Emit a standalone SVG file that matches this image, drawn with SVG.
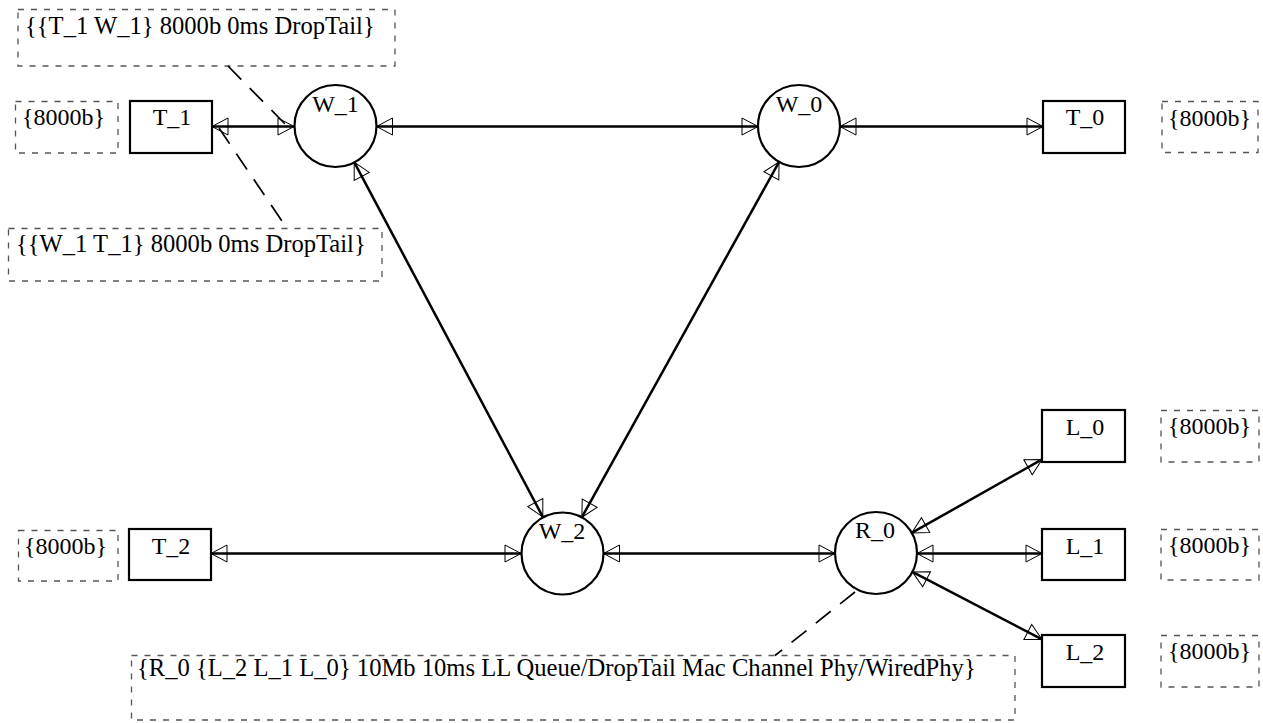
<svg xmlns="http://www.w3.org/2000/svg" width="1263" height="723" viewBox="0 0 1263 723">
  <style>
    text { font-family: "Liberation Serif", "Times New Roman", serif; font-size: 24px; fill: #000; }
    text.long { font-size: 24.6px; }
    .lbl { text-anchor: middle; }
    .node { fill: #fff; stroke: #000; stroke-width: 2.2; }
    .note { fill: none; stroke: #555; stroke-width: 1.3; stroke-dasharray: 6 7; }
    .edge { fill: none; stroke: #000; stroke-width: 2.5; marker-start: url(#tri); marker-end: url(#tri); }
    .lead { fill: none; stroke: #000; stroke-width: 1.7; stroke-dasharray: 19 12; }
  </style>
  <defs>
    <marker id="tri" markerUnits="userSpaceOnUse" markerWidth="18" markerHeight="18" refX="16" refY="8.5" orient="auto-start-reverse" overflow="visible">
      <path d="M0,0 L16,8.5 L0,17 Z" fill="none" stroke="#000" stroke-width="1"/>
    </marker>
  </defs>
  <rect width="1263" height="723" fill="#fff"/>

  <!-- queue / link annotations -->
  <g id="notes">
    <rect class="note" x="18" y="9.5" width="377" height="56.5"/>
    <text class="long" x="25" y="34">{{T_1 W_1} 8000b 0ms DropTail}</text>
    <rect class="note" x="8.5" y="228.5" width="373.5" height="52.5"/>
    <text class="long" x="16" y="252">{{W_1 T_1} 8000b 0ms DropTail}</text>
    <rect class="note" x="15.5" y="101.5" width="102.5" height="51.5"/>
    <text x="22" y="125">{8000b}</text>
    <rect class="note" x="18.5" y="530.5" width="99.5" height="50.5"/>
    <text x="24" y="554">{8000b}</text>
    <rect class="note" x="1162" y="101.5" width="96" height="51"/>
    <text x="1168" y="126">{8000b}</text>
    <rect class="note" x="1161" y="410.5" width="98" height="51.5"/>
    <text x="1168" y="434">{8000b}</text>
    <rect class="note" x="1161" y="529.5" width="98" height="50.5"/>
    <text x="1168" y="553">{8000b}</text>
    <rect class="note" x="1161" y="635.5" width="98" height="51.5"/>
    <text x="1168" y="659">{8000b}</text>
    <rect class="note" x="131.5" y="655.5" width="883.5" height="64.5"/>
    <text class="long" x="137" y="676">{R_0 {L_2 L_1 L_0} 10Mb 10ms LL Queue/DropTail Mac Channel Phy/WiredPhy}</text>
  </g>

  <!-- links between nodes -->
  <g id="connectors">
    <line class="edge" x1="212" y1="126.5" x2="294" y2="126.5"/>
    <line class="edge" x1="376.5" y1="126.5" x2="758" y2="126.5"/>
    <line class="edge" x1="840" y1="126.5" x2="1043" y2="126.5"/>
    <line class="edge" x1="354.2" y1="162.2" x2="542.8" y2="516.8"/>
    <line class="edge" x1="779.1" y1="161.9" x2="581.9" y2="517.2"/>
    <line class="edge" x1="211" y1="553.5" x2="521" y2="553.5"/>
    <line class="edge" x1="603.5" y1="553.5" x2="835" y2="553.5"/>
    <line class="edge" x1="911.7" y1="532.9" x2="1042" y2="459.4"/>
    <line class="edge" x1="917" y1="553.5" x2="1042" y2="553.5"/>
    <line class="edge" x1="912.4" y1="571.9" x2="1042" y2="639.4"/>
    <line class="lead" x1="228" y1="66" x2="287" y2="126"/>
    <line class="lead" x1="219" y1="128" x2="287" y2="228.5"/>
    <line class="lead" x1="855" y1="592" x2="775" y2="655.5"/>
  </g>

  <g id="T_1"><rect class="node" x="130" y="101" width="82" height="52"/><text class="lbl" x="172" y="125">T_1</text></g>
  <g id="T_0"><rect class="node" x="1043" y="101" width="82" height="52"/><text class="lbl" x="1085" y="125">T_0</text></g>
  <g id="T_2"><rect class="node" x="129" y="529" width="82" height="51"/><text class="lbl" x="171" y="554">T_2</text></g>
  <g id="L_0"><rect class="node" x="1042" y="410" width="83" height="52"/><text class="lbl" x="1085" y="435">L_0</text></g>
  <g id="L_1"><rect class="node" x="1042" y="529" width="83" height="51"/><text class="lbl" x="1085" y="554">L_1</text></g>
  <g id="L_2"><rect class="node" x="1042" y="635" width="83" height="52"/><text class="lbl" x="1085" y="660">L_2</text></g>

  <g id="W_1"><circle class="node" cx="335.5" cy="126" r="41"/><text class="lbl" x="335.5" y="112">W_1</text></g>
  <g id="W_0"><circle class="node" cx="799" cy="126" r="41"/><text class="lbl" x="799" y="112">W_0</text></g>
  <g id="W_2"><circle class="node" cx="562.5" cy="553.5" r="41"/><text class="lbl" x="562" y="539">W_2</text></g>
  <g id="R_0"><circle class="node" cx="876" cy="553" r="41"/><text class="lbl" x="875" y="538">R_0</text></g>
</svg>
